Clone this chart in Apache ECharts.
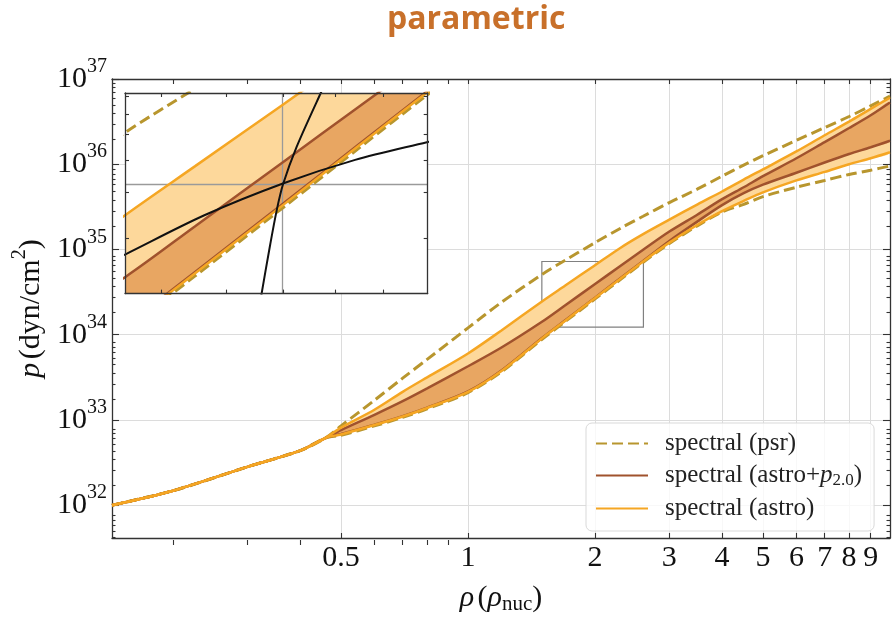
<!DOCTYPE html>
<html><head><meta charset="utf-8">
<script src="https://cdn.jsdelivr.net/npm/echarts@6/dist/echarts.min.js"></script>
<style>html,body{margin:0;padding:0;background:#fff}#c{width:893px;height:620px}</style>
</head><body><div id="c"></div>
<script>
// ---------------- data (rho in units of rho_nuc, pressure as log10 p [dyn/cm^2]) ----------------
const rhoLow   = [0.1433, 0.2, 0.3, 0.4, 0.46];
const logPLow  = [32.00, 32.17, 32.45, 32.64, 32.79];

const rhoGrid  = [0.5, 0.6, 0.7, 0.8, 1.0, 1.2, 1.5, 1.7, 2.0, 2.3, 2.6, 3.0, 3.5, 4.0, 4.5, 5.0, 6.0, 7.0, 8.0, 9.0, 10.0];
const psrUpper   = [32.93, 33.23, 33.49, 33.71, 34.08, 34.38, 34.71, 34.875, 35.08, 35.25, 35.39, 35.55, 35.71, 35.86, 35.99, 36.10, 36.28, 36.43, 36.56, 36.685, 36.80];
const psrLower   = [32.82, 32.93, 33.03, 33.13, 33.32, 33.565, 33.95, 34.155, 34.42, 34.65, 34.85, 35.07, 35.28, 35.44, 35.53, 35.62, 35.73, 35.81, 35.88, 35.93, 35.98];
const astroUpper = [32.91, 33.12, 33.33, 33.50, 33.78, 34.05, 34.393, 34.577, 34.816, 35.021, 35.18, 35.35, 35.53, 35.68, 35.82, 35.94, 36.15, 36.34, 36.50, 36.65, 36.78];
const astroLower = [32.83, 32.94, 33.04, 33.14, 33.33, 33.575, 33.96, 34.165, 34.43, 34.66, 34.86, 35.08, 35.29, 35.45, 35.57, 35.67, 35.81, 35.91, 36.00, 36.07, 36.14];
const p2Upper    = [32.88, 33.06, 33.22, 33.37, 33.63, 33.85, 34.155, 34.346, 34.595, 34.809, 34.996, 35.21, 35.41, 35.59, 35.73, 35.86, 36.07, 36.26, 36.425, 36.575, 36.725];
const p2Lower    = [32.835, 32.945, 33.045, 33.145, 33.335, 33.58, 33.965, 34.17, 34.435, 34.665, 34.865, 35.10, 35.33, 35.52, 35.66, 35.76, 35.90, 36.02, 36.12, 36.20, 36.275];

// inset-only curves
const blackARho = [1.45, 1.5, 1.73, 2.0, 2.28, 2.6, 2.7];
const blackALogP = [34.206, 34.241, 34.389, 34.512, 34.602, 34.670, 34.689];
const blackBRho = [1.90, 1.921, 1.951, 1.975, 1.998, 2.048, 2.141, 2.20];
const blackBLogP = [33.95, 34.087, 34.273, 34.408, 34.508, 34.651, 34.859, 34.98];
const insetCross = [2.0, 34.51];

// axes
const rhoRange = [0.1433, 10];
const logPRange = [31.615, 37];
const xLabelTicks = [0.5, 1, 2, 3, 4, 5, 6, 7, 8, 9];
const xMinorTicks = [0.2, 0.3, 0.4, 0.6, 0.7, 0.8, 0.9];
const yDecades = [32, 33, 34, 35, 36, 37];
const insetRho = [1.496, 2.604];
const insetLogP = [34.088, 34.859];
const insetXTicks = [1.6, 1.8, 2.0, 2.2, 2.4];
const insetYTicks = [2e34, 3e34, 4e34, 5e34, 6e34, 7e34];

const legendNames = ['psr', 'astroP2', 'astro'];

// ---------------- build ----------------
const L = Math.log10;
const allRho = rhoLow.concat(rhoGrid);
function curve(arr) { const ys = logPLow.concat(arr); return allRho.map((r, i) => [L(r), ys[i]]); }
function pairs(rs, ys) { return rs.map((r, i) => [L(r), ys[i]]); }
const yMinor = [];
for (let n = 31; n <= 36; n++) for (let k = 2; k <= 9; k++) { const v = n + L(k); if (v >= logPRange[0] && v <= logPRange[1]) yMinor.push(v); }

const serif = 'Liberation Serif';
const axCol = '#333';
const C = { psr: '#b8962e', p2: '#a0522d', astro: '#f5a623', astroFill: '#fdd89b', p2Fill: '#e8a662' };
const SM = 0.3;

function xAx(grid, pos, ticks, len, opts) {
  return Object.assign({
    gridIndex: grid, type: 'value', position: pos,
    min: grid === 2 ? L(insetRho[0]) : L(rhoRange[0]), max: grid === 2 ? L(insetRho[1]) : L(rhoRange[1]),
    axisLine: { show: opts && opts.line !== undefined ? opts.line : true, onZero: false, lineStyle: { color: axCol, width: 1.3 } },
    axisTick: { show: true, inside: true, length: len, customValues: ticks, lineStyle: { color: axCol, width: 1.1 } },
    axisLabel: { show: false }, splitLine: { show: false }
  }, opts && opts.extra || {});
}
function yAx(grid, pos, ticks, len, opts) {
  return Object.assign({
    gridIndex: grid, type: 'value', position: pos,
    min: grid === 2 ? insetLogP[0] : logPRange[0], max: grid === 2 ? insetLogP[1] : logPRange[1],
    axisLine: { show: opts && opts.line !== undefined ? opts.line : true, onZero: false, lineStyle: { color: axCol, width: 1.3 } },
    axisTick: { show: true, inside: true, length: len, customValues: ticks, lineStyle: { color: axCol, width: 1.1 } },
    axisLabel: { show: false }, splitLine: { show: false }
  }, opts && opts.extra || {});
}

const xMajorVals = xLabelTicks.map(L);
const xMinorVals = xMinorTicks.map(L);
const insetXVals = insetXTicks.map(L);
const insetYVals = insetYTicks.map(L);

const xAxis = [
  xAx(0, 'bottom', xMajorVals, 5, { extra: {
    axisLabel: { show: true, customValues: xMajorVals, margin: 5, fontFamily: serif, fontSize: 30, color: '#111',
      formatter: v => String(Number(Math.pow(10, v).toPrecision(2))) },
    splitLine: { show: true, lineStyle: { color: '#dcdcdc', width: 1 } },
    name: '{i|ρ} {r|(}{i|ρ}{sub|nuc}{r|)}', nameLocation: 'middle', nameGap: 44,
    nameTextStyle: { rich: {
      i: { fontFamily: serif, fontStyle: 'italic', fontSize: 30, color: '#111' },
      r: { fontFamily: serif, fontSize: 30, color: '#111' },
      sub: { fontFamily: serif, fontSize: 21, color: '#111', padding: [12, 0, 0, 0] } } }
  } }),
  xAx(0, 'top', xMajorVals.concat(xMinorVals), 5),
  xAx(1, 'bottom', xMinorVals, 5, { line: false }),
  xAx(1, 'top', [], 5, { line: false }),
  xAx(2, 'bottom', insetXVals, 4, { extra: { z: 13 } }),
  xAx(2, 'top', insetXVals, 4, { extra: { z: 13 } })
];
const yAxis = [
  yAx(0, 'left', yDecades, 7, { extra: {
    axisLabel: { show: true, customValues: yDecades, margin: 5,
      formatter: v => '{b|10}{s|' + Math.round(v) + '}',
      rich: { b: { fontFamily: serif, fontSize: 30, color: '#111' },
              s: { fontFamily: serif, fontSize: 20, color: '#111', padding: [0, 0, 24, 0] } } },
    splitLine: { show: true, lineStyle: { color: '#dcdcdc', width: 1 } },
    name: '{i|p} {r|(dyn/cm}{sup|2}{r|)}', nameLocation: 'middle', nameGap: 54, nameRotate: 90,
    nameTextStyle: { rich: {
      i: { fontFamily: serif, fontStyle: 'italic', fontSize: 30, color: '#111' },
      r: { fontFamily: serif, fontSize: 30, color: '#111' },
      sup: { fontFamily: serif, fontSize: 20, color: '#111', padding: [0, 0, 22, 0] } } }
  } }),
  yAx(0, 'right', yDecades, 7),
  yAx(1, 'left', yMinor, 3.5, { line: false }),
  yAx(1, 'right', yMinor, 3.5, { line: false }),
  yAx(2, 'left', insetYVals, 4, { extra: { z: 13 } }),
  yAx(2, 'right', insetYVals, 4, { extra: { z: 13 } })
];

function band(upper, lower, color, axIdx, z) {
  const poly = curve(upper).concat(curve(lower).reverse());
  return {
    type: 'custom', xAxisIndex: axIdx, yAxisIndex: axIdx, z: z, silent: true,
    data: [poly[0]],
    renderItem: (params, api) => {
      const cs = params.coordSys;
      return { type: 'polygon', shape: { points: poly.map(p => api.coord(p)), smooth: SM },
        style: { fill: color },
        clipPath: { type: 'rect', shape: { x: cs.x, y: cs.y, width: cs.width, height: cs.height } } };
    }
  };
}
function line(name, data, color, width, type, axIdx, z, extra) {
  return Object.assign({
    name: name, type: 'line', xAxisIndex: axIdx, yAxisIndex: axIdx, z: z, data: data,
    symbol: 'none', showSymbol: false, silent: true, clip: true, animation: false, smooth: SM,
    lineStyle: { color: color, width: width, type: type }, itemStyle: { color: color }
  }, extra || {});
}
const dash = [11, 5];

function curveSet(axIdx, zBase) {
  return [
    band(astroUpper, astroLower, C.astroFill, axIdx, zBase),
    band(p2Upper, p2Lower, C.p2Fill, axIdx, zBase),
    line('psr', curve(psrUpper), C.psr, 3, dash, axIdx, zBase + 2),
    line('psr', curve(psrLower), C.psr, 3, dash, axIdx, zBase + 2),
    line('astroP2', curve(p2Upper), C.p2, 2.5, 'solid', axIdx, zBase + 3),
    line('astroP2', curve(p2Lower), C.p2, 2.5, 'solid', axIdx, zBase + 3),
    line('astro', curve(astroLower), C.astro, 2.5, 'solid', axIdx, zBase + 4)
  ];
}

const INSET = 4; // axis index of the inset axes
const series = [].concat(
  curveSet(0, 1),
  [line('astro', curve(astroUpper), C.astro, 2.5, 'solid', 0, 5, {
    markArea: { silent: true, itemStyle: { color: 'rgba(0,0,0,0)', borderColor: '#808080', borderWidth: 1.2 },
      label: { show: false },
      data: [[{ coord: [L(insetRho[0]), insetLogP[0]] }, { coord: [L(insetRho[1]), insetLogP[1]] }]] }
  })],
  curveSet(INSET, 7),
  [line('astro', curve(astroUpper), C.astro, 2.5, 'solid', INSET, 11)],
  [line('cross', [], '#999', 1, 'solid', INSET, 8, {
    markLine: { silent: true, symbol: 'none', z: 8, label: { show: false },
      lineStyle: { color: '#9a9a9a', width: 1.3, type: 'solid' },
      data: [{ xAxis: L(insetCross[0]) }, { yAxis: insetCross[1] }] } })],
  [line('blackA', pairs(blackARho, blackALogP), '#111', 2, 'solid', INSET, 12),
   line('blackB', pairs(blackBRho, blackBLogP), '#111', 2, 'solid', INSET, 12)]
);

const legendLabels = {
  psr: '{t|spectral (psr)}',
  astroP2: '{t|spectral (astro+}{i|p}{sub|2.0}{r|)}',
  astro: '{t|spectral (astro)}'
};

const option = {
  animation: false,
  backgroundColor: '#fff',
  title: { text: 'parametric', left: 382, top: -1,
    textStyle: { fontFamily: 'Open Sans', fontWeight: 'bold', fontSize: 32, color: '#c8702a' } },
  grid: [
    { left: 112, top: 79, right: 3, bottom: 75, containLabel: false },
    { left: 112, top: 79, right: 3, bottom: 75, containLabel: false },
    { left: 125, top: 93, width: 302.7, height: 200.6, show: true, backgroundColor: '#fff', borderWidth: 0, z: 5 }
  ],
  xAxis: xAxis, yAxis: yAxis,
  legend: {
    data: legendNames, orient: 'vertical', left: 586, top: 423,
    padding: [8, 12, 10, 9], itemGap: 7, itemWidth: 52, itemHeight: 14,
    backgroundColor: 'rgba(255,255,255,0.8)', borderColor: '#d9d9d9', borderWidth: 1, borderRadius: 6,
    selectedMode: false,
    itemStyle: { opacity: 0 },
    formatter: n => legendLabels[n],
    textStyle: { rich: {
      t: { fontFamily: serif, fontSize: 25, color: '#222', lineHeight: 28, padding: [0, 0, 0, 12] },
      r: { fontFamily: serif, fontSize: 25, color: '#222', lineHeight: 28 },
      i: { fontFamily: serif, fontStyle: 'italic', fontSize: 25, color: '#222', lineHeight: 28 },
      sub: { fontFamily: serif, fontSize: 17, color: '#222', padding: [10, 0, 0, 0] } } }
  },
  series: series
};
const chart = echarts.init(document.getElementById('c'));
chart.setOption(option);
</script></body></html>
